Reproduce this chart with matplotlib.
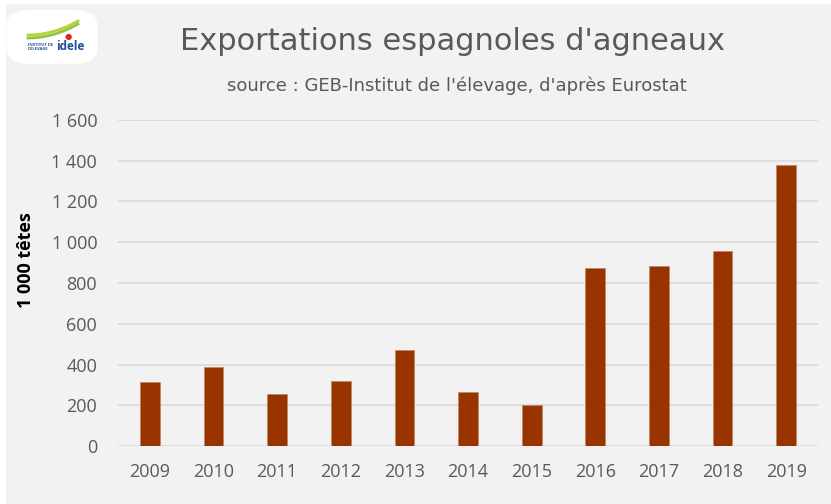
import numpy as np
import matplotlib.pyplot as plt
from matplotlib.patches import FancyBboxPatch, Rectangle
from matplotlib.ticker import FuncFormatter

annees = ['2009', '2010', '2011', '2012', '2013', '2014', '2015', '2016', '2017', '2018', '2019']
exportations = [314, 389, 254, 319, 471, 266, 203, 875, 883, 958, 1377]

couleur_barre = '#993300'
gris_texte = '#595959'
fond = '#f2f2f2'

plt.rcParams['font.family'] = ['Open Sans', 'DejaVu Sans']

fig = plt.figure(figsize=(8.31, 5.04), dpi=100)
fig.patch.set_facecolor('white')

# fond gris du cadre
fig.patches.append(Rectangle((6 / 831, 0), 1, 1 - 4 / 504, transform=fig.transFigure,
                             facecolor=fond, edgecolor='none', zorder=-10))

ax = fig.add_axes([118 / 831, 1 - 446 / 504, 700 / 831, 326 / 504])
ax.set_facecolor(fond)

x = np.arange(len(annees))
ax.bar(x, exportations, width=0.31, color=couleur_barre, edgecolor='#c0876a',
       linewidth=0.6, zorder=3)

ax.set_xlim(-0.5, len(annees) - 0.5)
ax.set_ylim(0, 1600)
ax.set_yticks(np.arange(0, 1601, 200))
ax.yaxis.set_major_formatter(FuncFormatter(lambda v, p: f'{int(v):,}'.replace(',', ' ')))
ax.set_xticks(x)
ax.set_xticklabels(annees)
ax.grid(axis='y', color='#d9d9d9', linewidth=1.2, zorder=0)
for s in ax.spines.values():
    s.set_visible(False)
ax.tick_params(axis='both', length=0, labelsize=13, labelcolor=gris_texte)
ax.tick_params(axis='y', pad=15)
ax.tick_params(axis='x', pad=12)

ax.set_ylabel('1 000 têtes', fontsize=13, fontweight='bold', color='black')
ax.yaxis.set_label_coords((35 - 118) / 700, (446 - 260) / 326)

fig.text(453 / 831, 1 - 42 / 504, "Exportations espagnoles d'agneaux", ha='center', va='center',
         fontsize=22, color=gris_texte, family='DejaVu Sans')
fig.text(457 / 831, 1 - 86 / 504, "source : GEB-Institut de l'élevage, d'après Eurostat",
         ha='center', va='center', fontsize=13, color=gris_texte, family='DejaVu Sans')

# logo idele (approximation)
logo = FancyBboxPatch((10 / 831, 1 - 62 / 504), 84 / 831, 50 / 504,
                      boxstyle='round,pad=0.004,rounding_size=0.03',
                      transform=fig.transFigure, facecolor='white', edgecolor='none')
fig.patches.append(logo)
t = np.linspace(0, 1, 30)
for dy, c in [(0, '#8dc63f'), (3, '#b5d334')]:
    fig.lines.append(plt.Line2D((28 + 50 * t) / 831, 1 - (38 - dy - 14 * t ** 2) / 504,
                                transform=fig.transFigure, color=c, linewidth=2))
fig.text(68 / 831, 1 - 37 / 504, '●', fontsize=6, color='#e2231a', ha='center', va='center')
fig.text(28 / 831, 1 - 47 / 504, "INSTITUT DE\nL'ELEVAGE", fontsize=3, color='#1f4e9c',
         fontweight='bold', ha='left', va='center', linespacing=0.9)
fig.text(56 / 831, 1 - 47 / 504, 'idele', fontsize=8.5, color='#1f4e9c', fontweight='bold',
         ha='left', va='center')

fig.savefig('out.png', dpi=100, facecolor=fig.get_facecolor())
